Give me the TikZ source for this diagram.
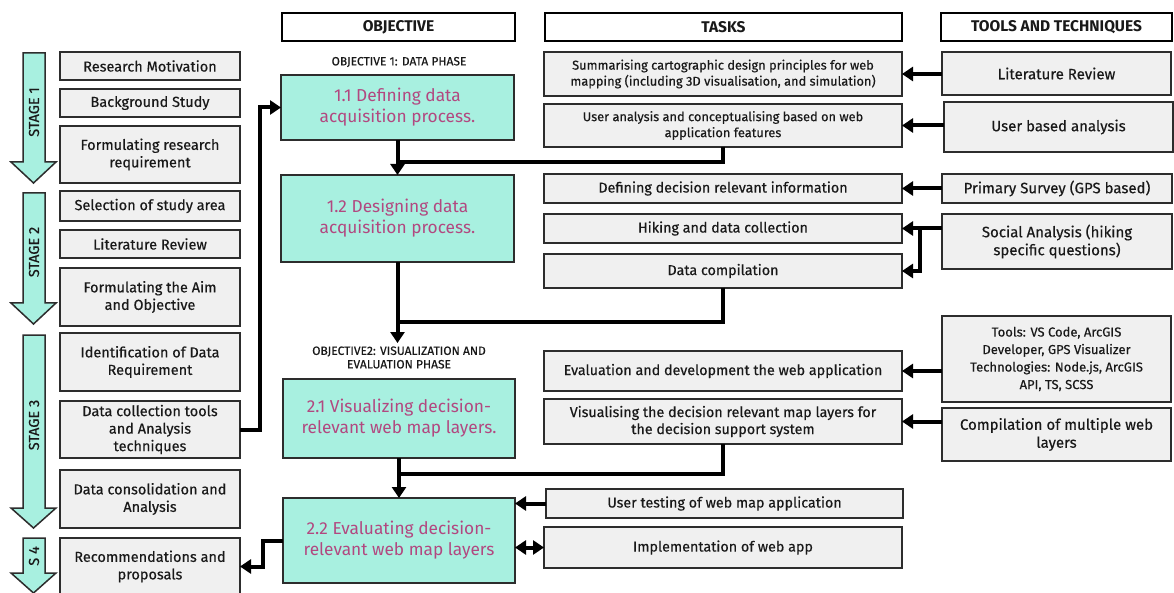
\documentclass[tikz,border=0pt]{standalone}
\usepackage{fontspec}
\setmainfont{Fira Sans}
\usetikzlibrary{arrows.meta,calc}
\definecolor{teal1}{RGB}{168,240,224}
\definecolor{mag}{RGB}{178,72,128}
\definecolor{gfill}{RGB}{240,240,240}
\definecolor{gdraw}{RGB}{45,45,45}
\definecolor{txt}{RGB}{25,25,25}
\newcommand\emb{\addfontfeature{FakeBold=0.4}}
\tikzset{
 base/.style={inner sep=1pt, outer sep=0pt, align=center, text=txt},
 gbox/.style={base, draw=gdraw, fill=gfill, line width=1.8pt, font=\emb\fontsize{14.5}{17.5}\selectfont},
 tlbox/.style={gbox, font=\emb\fontsize{15}{18}\selectfont},
 ttbox/.style={gbox, font=\emb\fontsize{13}{17.5}\selectfont},
 tbox/.style={gbox, font=\emb\fontsize{14.3}{17}\selectfont},
 tsbox/.style={gbox, font=\emb\fontsize{12.8}{16}\selectfont},
 hbox/.style={base, draw=black, fill=white, line width=1.5pt, font=\bfseries\fontsize{15.5}{17}\selectfont},
 obox/.style={base, draw=gdraw, fill=teal1, line width=1.8pt, text=mag, font=\fontsize{17.3}{21}\selectfont},
 phase/.style={base, font=\emb\fontsize{12}{13.5}\selectfont},
 stagelbl/.style={base, rotate=90, font=\emb\fontsize{14.5}{15}\selectfont},
 conn/.style={line width=4pt, draw=black},
 arr/.style={conn, -{Triangle[width=14pt,length=11pt]}},
 darr/.style={conn, {Triangle[width=14pt,length=11pt]}-{Triangle[width=14pt,length=11pt]}},
 stagearrow/.style={fill=teal1, draw=gdraw, line width=1.5pt, line join=miter},
}
\newcommand\mybox[7]{\node[#1, minimum width={(#4-#2)*1pt}, minimum height={(#5-#3)*1pt}] (#6) at ({(#2+#4)/2},{(#3+#5)/2}) {#7};}
\newcommand\stagearr[3]{\draw[stagearrow] (23,#1) -- (45,#1) -- (45,#2) -- (56,#2) -- (33.5,#3) -- (11,#2) -- (23,#2) -- cycle;}
\begin{document}
\begin{tikzpicture}[x=1pt,y=-1pt]
\useasboundingbox[fill=white] (0,0) rectangle (1174,593);

% headers
\mybox{hbox}{282}{13}{515}{41}{hobj}{OBJECTIVE}
\mybox{hbox}{545}{13}{902}{41}{htask}{TASKS}
\mybox{hbox}{941}{13}{1172}{41}{htool}{TOOLS AND TECHNIQUES}

% stage arrows
\stagearr{53}{162}{183}
\stagearr{193}{303}{324}
\stagearr{335}{508}{528}
\stagearr{538}{573}{593}
\node[stagelbl] (s1) at (34,112) {STAGE 1};
\node[stagelbl] (s2) at (34,252) {STAGE 2};
\node[stagelbl] (s3) at (34,425) {STAGE 3};
\node[stagelbl] (s4) at (34,556) {S 4};

% left column
\mybox{gbox}{60}{52}{240}{80}{rm}{Research Motivation}
\mybox{gbox}{60}{89}{240}{117}{bs}{Background Study}
\mybox{gbox}{60}{126}{240}{183}{frr}{Formulating research\\requirement}
\mybox{gbox}{60}{191}{240}{221}{ssa}{Selection of study area}
\mybox{gbox}{60}{230}{240}{258}{lr}{Literature Review}
\mybox{gbox}{60}{268}{240}{326}{fao}{Formulating the Aim\\and Objective}
\mybox{gbox}{60}{333}{240}{391}{idr}{Identification of Data\\Requirement}
\mybox{gbox}{60}{401}{240}{458}{dct}{Data collection tools\\and Analysis\\techniques}
\mybox{gbox}{60}{470}{240}{528}{dca}{Data consolidation and\\Analysis}
\mybox{gbox}{60}{538}{240}{595}{rec}{Recommendations and\\proposals}

% objective column
\node[phase] (ph1) at (399,62) {OBJECTIVE 1: DATA PHASE};
\mybox{obox}{281}{75}{514}{140}{o11}{1.1 Defining data\\acquisition process.}
\mybox{obox}{281}{175}{514}{262}{o12}{1.2 Designing data\\acquisition process.}
\node[phase] (ph2) at (399,357.5) {OBJECTIVE2: VISUALIZATION AND\\EVALUATION PHASE};
\mybox{obox}{283}{379}{515}{458}{o21}{2.1 Visualizing decision-\\relevant web map layers.}
\mybox{obox}{283}{498}{515}{583}{o22}{2.2 Evaluating decision-\\relevant web map layers}

% tasks column
\mybox{tsbox}{544}{52}{902}{96}{sum}{Summarising cartographic design principles for web\\mapping (including 3D visualisation, and simulation)}
\mybox{tsbox}{544}{104}{902}{147}{ua}{User analysis and conceptualising based on web\\application features}
\mybox{tbox}{544}{174}{902}{203}{ddr}{Defining decision relevant information}
\mybox{tbox}{544}{214}{902}{243}{hik}{Hiking and data collection}
\mybox{tbox}{544}{254}{902}{288}{dc}{Data compilation}
\mybox{tbox}{544}{351}{902}{391}{ev}{Evaluation and development the web application}
\mybox{tbox}{544}{399}{902}{444}{vis}{Visualising the decision relevant map layers for\\the decision support system}
\mybox{tbox}{546}{489}{903}{518}{ut}{User testing of web map application}
\mybox{tbox}{544}{527}{902}{568}{im}{Implementation of web app}

% tools column
\mybox{tlbox}{942}{52}{1171}{95}{tlit}{Literature Review}
\mybox{tlbox}{944}{102}{1173}{152}{tub}{User based analysis}
\mybox{tlbox}{942}{174}{1172}{203}{tps}{Primary Survey (GPS based)}
\mybox{tlbox}{942}{214}{1172}{269}{tsa}{Social Analysis (hiking\\specific questions)}
\mybox{ttbox}{942}{316}{1171}{402}{ttv}{Tools: VS Code, ArcGIS\\Developer, GPS Visualizer\\Technologies: Node.js, ArcGIS\\API, TS, SCSS}
\mybox{tlbox}{942}{408}{1171}{461}{tcm}{Compilation of multiple web\\layers}

% coordinates
\coordinate (j1) at (o11.south |- 0,162);
\coordinate (o2top) at (o12.south |- 0,343);
\coordinate (j2) at (o12.south |- 0,322);
\coordinate (j3) at (o21.south |- 0,474);
\coordinate (b1) at ($(hik.east)+(18,0)$);

% connectors
\draw[arr] (dct.east) -- ++(20,0) |- (o11.west);
\draw[arr] (o11.south) -- (o12.north);
\draw[conn] (ua.south) |- (j1);
\draw[arr] (o12.south) -- (o2top);
\draw[conn] (dc.south) |- (j2);
\draw[arr] (o21.south) -- (o22.north);
\draw[conn] (vis.south) |- (j3);
\draw[arr] (o22.west) -- ++(-20,0) |- (rec.east);

\draw[arr] (tlit.west |- sum.east) -- (sum.east);
\draw[arr] (tub.west |- ua.east) -- (ua.east);
\draw[arr] (tps.west) -- (ddr.east);
\draw[arr] (tsa.west |- hik.east) -- (hik.east);
\draw[arr] (b1) |- (dc.east);
\draw[arr] (ttv.west |- ev.east) -- (ev.east);
\draw[arr] (tcm.west |- vis.east) -- (vis.east);
\draw[arr] (ut.west) -- (ut.west -| o22.east);
\draw[darr] (o22.east |- im.west) -- (im.west);
\end{tikzpicture}
\end{document}
